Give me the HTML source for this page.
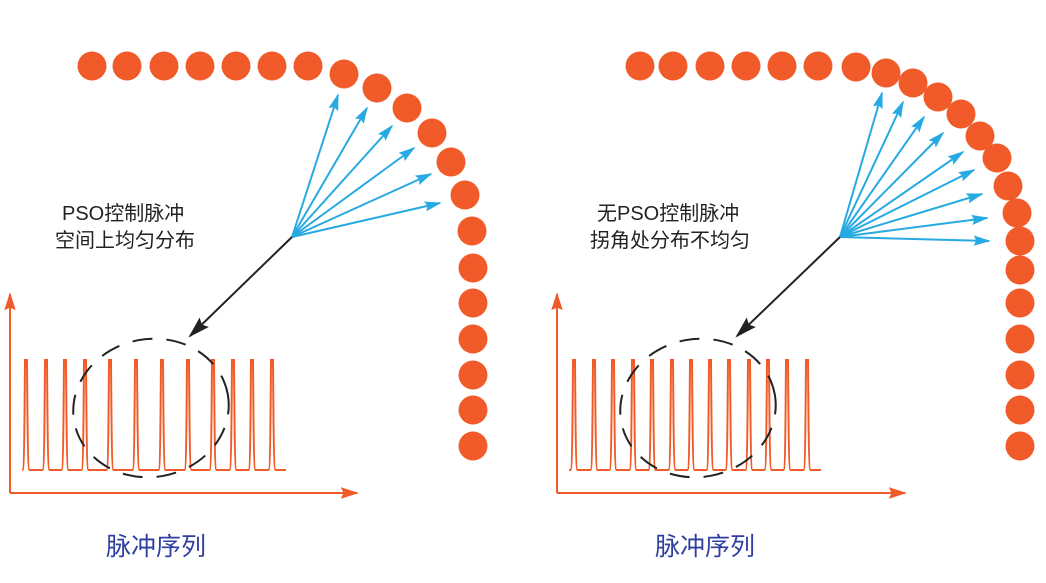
<!DOCTYPE html>
<html><head><meta charset="utf-8"><style>
html,body{margin:0;padding:0;background:#fff;width:1046px;height:583px;overflow:hidden}
svg{display:block}
text{font-family:"Liberation Sans","Noto Sans CJK SC",sans-serif}
</style></head><body>
<svg width="1046" height="583" viewBox="0 0 1046 583" xmlns="http://www.w3.org/2000/svg">
<defs>
<marker id="bl" viewBox="0 0 10 10" refX="9" refY="5" markerWidth="17" markerHeight="17" markerUnits="userSpaceOnUse" orient="auto"><path d="M0,2 L10,5 L0,8 L1.5,5 Z" fill="#27aae1"/></marker>
<marker id="bk" viewBox="0 0 10 10" refX="9" refY="5" markerWidth="22" markerHeight="22" markerUnits="userSpaceOnUse" orient="auto"><path d="M0,2 L10,5 L0,8 L1.5,5 Z" fill="#222"/></marker>
<marker id="or" viewBox="0 0 10 10" refX="9" refY="5" markerWidth="18" markerHeight="18" markerUnits="userSpaceOnUse" orient="auto"><path d="M0,1.8 L10,5 L0,8.2 L1.5,5 Z" fill="#f15a29"/></marker>
</defs>
<g fill="#f15a29">
<circle cx="92" cy="66" r="14.5"/><circle cx="127" cy="66" r="14.5"/><circle cx="164" cy="66" r="14.5"/><circle cx="200" cy="66" r="14.5"/><circle cx="236" cy="66" r="14.5"/><circle cx="272" cy="66" r="14.5"/><circle cx="308" cy="66" r="14.5"/>
<circle cx="344" cy="74" r="14.5"/><circle cx="377" cy="88" r="14.5"/><circle cx="407" cy="108" r="14.5"/><circle cx="432" cy="133" r="14.5"/><circle cx="451" cy="162" r="14.5"/><circle cx="465" cy="195" r="14.5"/><circle cx="472" cy="231" r="14.5"/><circle cx="473" cy="268" r="14.5"/><circle cx="473" cy="303" r="14.5"/><circle cx="473" cy="339" r="14.5"/><circle cx="473" cy="375" r="14.5"/><circle cx="473" cy="410" r="14.5"/><circle cx="473" cy="446" r="14.5"/>
<circle cx="640" cy="66" r="14.5"/><circle cx="673" cy="66" r="14.5"/><circle cx="710" cy="66" r="14.5"/><circle cx="746" cy="66" r="14.5"/><circle cx="782" cy="66" r="14.5"/><circle cx="818" cy="66" r="14.5"/><circle cx="856" cy="67" r="14.5"/>
<circle cx="886" cy="73" r="14.5"/><circle cx="913" cy="83" r="14.5"/><circle cx="938" cy="97" r="14.5"/><circle cx="961" cy="114" r="14.5"/><circle cx="980" cy="136" r="14.5"/><circle cx="997" cy="158" r="14.5"/><circle cx="1008" cy="186" r="14.5"/><circle cx="1017" cy="213" r="14.5"/><circle cx="1020" cy="241" r="14.5"/><circle cx="1020" cy="270" r="14.5"/><circle cx="1020" cy="303" r="14.5"/><circle cx="1020" cy="339" r="14.5"/><circle cx="1020" cy="375" r="14.5"/><circle cx="1020" cy="410" r="14.5"/><circle cx="1020" cy="446" r="14.5"/>
</g>
<g stroke="#27aae1" stroke-width="2" marker-end="url(#bl)">
<line x1="292" y1="237" x2="338" y2="95"/><line x1="292" y1="237" x2="367" y2="108"/><line x1="292" y1="237" x2="392" y2="126"/><line x1="292" y1="237" x2="414" y2="148"/><line x1="292" y1="237" x2="431" y2="174"/><line x1="292" y1="237" x2="440" y2="203"/>
<line x1="840" y1="237" x2="882" y2="93"/><line x1="840" y1="237" x2="903" y2="102"/><line x1="840" y1="237" x2="924" y2="117"/><line x1="840" y1="237" x2="943" y2="133"/><line x1="840" y1="237" x2="963" y2="152"/><line x1="840" y1="237" x2="974" y2="170"/><line x1="840" y1="237" x2="982" y2="194"/><line x1="840" y1="237" x2="987" y2="218"/><line x1="840" y1="237" x2="989" y2="241"/>
</g>
<g stroke="#222" stroke-width="2" marker-end="url(#bk)">
<line x1="292" y1="237" x2="190" y2="336"/>
<line x1="840" y1="237" x2="737" y2="336"/>
</g>
<g stroke="#f15a29" stroke-width="2" fill="none">
<path marker-end="url(#or)" d="M10 493 L10 294"/>
<path marker-end="url(#or)" d="M10 493 L357 493"/>
<path marker-end="url(#or)" d="M557 493 L557 294"/>
<path marker-end="url(#or)" d="M557 493 L905 493"/>
<path d="M22 470 L22.5 470 c1.5 0 2 -40 2.5 -110 l2 0 c0.5 70 1 110 2.5 110 L42.5 470 c1.5 0 2 -40 2.5 -110 l2 0 c0.5 70 1 110 2.5 110 L61.5 470 c1.5 0 2 -40 2.5 -110 l2 0 c0.5 70 1 110 2.5 110 L81.5 470 c1.5 0 2 -40 2.5 -110 l2 0 c0.5 70 1 110 2.5 110 L106.5 470 c1.5 0 2 -40 2.5 -110 l2 0 c0.5 70 1 110 2.5 110 L132.5 470 c1.5 0 2 -40 2.5 -110 l2 0 c0.5 70 1 110 2.5 110 L158.5 470 c1.5 0 2 -40 2.5 -110 l2 0 c0.5 70 1 110 2.5 110 L184.5 470 c1.5 0 2 -40 2.5 -110 l2 0 c0.5 70 1 110 2.5 110 L209.5 470 c1.5 0 2 -40 2.5 -110 l2 0 c0.5 70 1 110 2.5 110 L229.5 470 c1.5 0 2 -40 2.5 -110 l2 0 c0.5 70 1 110 2.5 110 L248.5 470 c1.5 0 2 -40 2.5 -110 l2 0 c0.5 70 1 110 2.5 110 L268.5 470 c1.5 0 2 -40 2.5 -110 l2 0 c0.5 70 1 110 2.5 110 L286 470"/>
<path d="M569 470 L570.5 470 c1.5 0 2 -40 2.5 -110 l2 0 c0.5 70 1 110 2.5 110 L590.5 470 c1.5 0 2 -40 2.5 -110 l2 0 c0.5 70 1 110 2.5 110 L609.5 470 c1.5 0 2 -40 2.5 -110 l2 0 c0.5 70 1 110 2.5 110 L629.5 470 c1.5 0 2 -40 2.5 -110 l2 0 c0.5 70 1 110 2.5 110 L648.5 470 c1.5 0 2 -40 2.5 -110 l2 0 c0.5 70 1 110 2.5 110 L668.5 470 c1.5 0 2 -40 2.5 -110 l2 0 c0.5 70 1 110 2.5 110 L687.5 470 c1.5 0 2 -40 2.5 -110 l2 0 c0.5 70 1 110 2.5 110 L706.5 470 c1.5 0 2 -40 2.5 -110 l2 0 c0.5 70 1 110 2.5 110 L725.5 470 c1.5 0 2 -40 2.5 -110 l2 0 c0.5 70 1 110 2.5 110 L745.5 470 c1.5 0 2 -40 2.5 -110 l2 0 c0.5 70 1 110 2.5 110 L764.5 470 c1.5 0 2 -40 2.5 -110 l2 0 c0.5 70 1 110 2.5 110 L783.5 470 c1.5 0 2 -40 2.5 -110 l2 0 c0.5 70 1 110 2.5 110 L803.5 470 c1.5 0 2 -40 2.5 -110 l2 0 c0.5 70 1 110 2.5 110 L821 470"/>
</g>
<g stroke="#222" stroke-width="2" fill="none" stroke-dasharray="20 14">
<ellipse cx="151" cy="408" rx="78" ry="69" transform="rotate(-10 151 408)"/>
<ellipse cx="698" cy="408" rx="78" ry="69" transform="rotate(-10 698 408)"/>
</g>
<g font-size="20" fill="#222">
<text x="62" y="220">PSO控制脉冲</text>
<text x="55" y="247">空间上均匀分布</text>
<text x="597" y="220">无PSO控制脉冲</text>
<text x="590" y="247">拐角处分布不均匀</text>
</g>
<g font-size="25" fill="#2e3f9e">
<text x="106" y="555">脉冲序列</text>
<text x="655" y="555">脉冲序列</text>
</g>
</svg>
</body></html>
